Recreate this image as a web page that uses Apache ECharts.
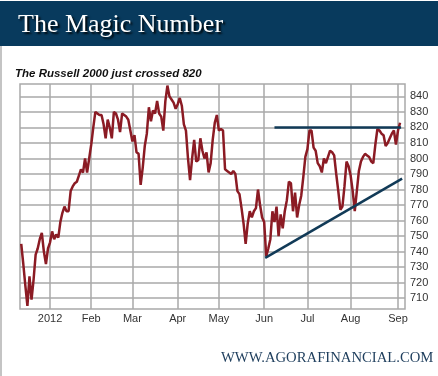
<!DOCTYPE html>
<html>
<head>
<meta charset="utf-8">
<script src="https://cdn.jsdelivr.net/npm/echarts@6/dist/echarts.min.js"></script>
<style>
  html, body { margin: 0; padding: 0; background: #fff; }
  #chart { width: 438px; height: 376px; }
</style>
</head>
<body>
<div id="chart"></div>
<script>
// Russell 2000 daily closes, one per trading day, mid Dec 2011 .. early Sep 2012
var closes = [
  745, 732, 718, 705, 724, 709, 722, 738, 742, 748,
  752, 740, 732, 742, 746, 753, 748, 751, 749, 759,
  765, 769, 766, 766, 779, 782, 784, 785, 789, 793,
  791, 800, 791, 800, 809, 820, 830, 829, 828, 828,
  822, 813, 825, 820, 813, 830, 829, 825, 817, 829,
  828, 827, 825, 818, 811, 815, 804, 803, 783, 794,
  808, 816, 833, 824, 831, 829, 837, 829, 827, 818,
  837, 847, 840, 838, 836, 832, 835, 839, 834, 822,
  818, 800, 786, 800, 812, 798, 799, 813, 805, 800,
  804, 791, 797, 812, 823, 828, 818, 819, 818, 793,
  792, 791, 790, 792, 790, 779, 777, 768, 758, 745,
  758, 766, 762, 766, 768, 780, 770, 762, 759, 737,
  742, 748, 766, 759, 769, 750, 764, 755, 766, 773,
  785, 784, 766, 778, 762, 770, 776, 788, 801, 806,
  818, 818, 807, 805, 797, 795, 791, 800, 797, 801,
  805, 804, 802, 790, 779, 767, 769, 782, 798, 795,
  789, 779, 766, 779, 792, 798, 801, 803, 802, 801,
  798, 797, 809, 819, 818, 816, 815, 808, 810, 813,
  816, 818, 809, 818, 823
];

// trading-day index where each month starts, and its label
var monthIdx = [14, 34, 54, 76, 96, 118, 139, 160, 183];
var monthLabels = ['2012', 'Feb', 'Mar', 'Apr', 'May', 'Jun', 'Jul', 'Aug', 'Sep'];

var yTicks = [710, 720, 730, 740, 750, 760, 770, 780, 790, 800, 810, 820, 830, 840];

// drawn trend lines [dayIndex, level]
var resistance = [[123, 820], [184.5, 820]];
var support = [[118.5, 736], [185, 787]];

var chart = echarts.init(document.getElementById('chart'));

var lineData = closes.map(function (v, i) { return [i, v]; });

var option = {
  animation: false,
  backgroundColor: '#fff',
  graphic: [
    {
      type: 'rect',
      shape: { x: 0, y: 1, width: 438, height: 45 },
      style: { fill: '#083a5d' },
      z: 0
    },
    {
      type: 'rect',
      shape: { x: 0, y: 46, width: 2, height: 330 },
      style: { fill: '#c4c4c4' },
      z: 0
    }
  ],
  title: [
    {
      text: 'The Magic Number',
      left: 13,
      top: 7,
      textStyle: {
        color: '#fff',
        fontFamily: 'Liberation Serif',
        fontWeight: 'normal',
        fontSize: 26,
        textShadowColor: 'rgba(0,0,0,0.9)',
        textShadowBlur: 2,
        textShadowOffsetX: 2,
        textShadowOffsetY: 2
      }
    },
    {
      text: 'The Russell 2000 just crossed 820',
      left: 10,
      top: 63,
      textStyle: {
        color: '#111',
        fontFamily: 'Liberation Sans',
        fontStyle: 'italic',
        fontWeight: 'bold',
        fontSize: 11.5
      }
    },
    {
      text: 'WWW.AGORAFINANCIAL.COM',
      left: 216,
      top: 346,
      textStyle: {
        color: '#1d3d5c',
        fontFamily: 'Liberation Serif',
        fontWeight: 'normal',
        fontSize: 14.7
      }
    }
  ],
  grid: {
    show: true,
    left: 20,
    right: 33,
    top: 84,
    bottom: 67,
    borderColor: '#a9a9a9',
    borderWidth: 1.5,
    containLabel: false
  },
  xAxis: {
    type: 'value',
    min: -0.6,
    max: 186.4,
    axisLine: { show: false },
    axisTick: { show: false, customValues: monthIdx },
    axisLabel: {
      customValues: monthIdx,
      margin: 4,
      color: '#333',
      fontFamily: 'Liberation Sans',
      fontSize: 11,
      formatter: function (v) {
        var k = monthIdx.indexOf(v);
        return k >= 0 ? monthLabels[k] : '';
      }
    },
    splitLine: { show: true, lineStyle: { color: '#a9a9a9', width: 1.5 } }
  },
  yAxis: {
    type: 'value',
    position: 'right',
    min: 703,
    max: 848,
    axisLine: { show: false },
    axisTick: { show: false, customValues: yTicks },
    axisLabel: {
      customValues: yTicks,
      margin: 5,
      color: '#333',
      fontFamily: 'Liberation Sans',
      fontSize: 11
    },
    splitLine: { show: true, lineStyle: { color: '#a9a9a9', width: 1.5 } }
  },
  series: [
    {
      name: 'Russell 2000',
      type: 'line',
      data: lineData,
      symbol: 'none',
      lineStyle: { color: '#8b1b24', width: 2.5 },
      z: 3
    },
    {
      name: 'resistance',
      type: 'line',
      data: resistance,
      symbol: 'none',
      lineStyle: { color: '#113a57', width: 2.5 },
      z: 4
    },
    {
      name: 'support',
      type: 'line',
      data: support,
      symbol: 'none',
      lineStyle: { color: '#113a57', width: 2.5 },
      z: 4
    }
  ]
};

chart.setOption(option);
</script>
</body>
</html>
